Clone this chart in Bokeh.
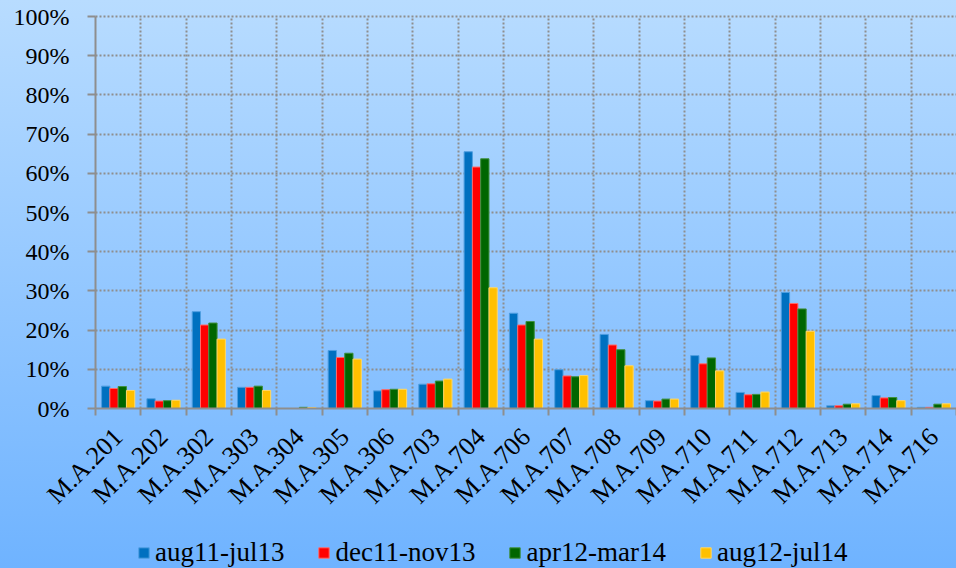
from math import pi
from bokeh.plotting import figure
from bokeh.models import (Range1d, FixedTicker, PrintfTickFormatter, Legend,
                          LegendItem, GlobalInlineStyleSheet, Grid)
from bokeh.embed import file_html
from bokeh.resources import INLINE

categories = ["M.A.201", "M.A.202", "M.A.302", "M.A.303", "M.A.304", "M.A.305",
              "M.A.306", "M.A.703", "M.A.704", "M.A.706", "M.A.707", "M.A.708",
              "M.A.709", "M.A.710", "M.A.711", "M.A.712", "M.A.713", "M.A.714",
              "M.A.716"]
series_names = ["aug11-jul13", "dec11-nov13", "apr12-mar14", "aug12-jul14"]
aug11_jul13 = [5.7, 2.5, 24.7, 5.4, 0.0, 14.8, 4.5, 6.2, 65.5, 24.3, 9.9, 18.9,
               2.0, 13.5, 4.1, 29.6, 0.7, 3.3, 0.3]
dec11_nov13 = [5.1, 1.9, 21.3, 5.4, 0.0, 13.0, 4.8, 6.3, 61.6, 21.3, 8.3, 16.2,
               1.9, 11.4, 3.5, 26.8, 0.7, 2.7, 0.3]
apr12_mar14 = [5.6, 2.0, 21.8, 5.7, 0.3, 14.1, 4.9, 7.0, 63.7, 22.2, 8.1, 15.0,
               2.4, 12.9, 3.6, 25.4, 1.1, 2.8, 1.1]
aug12_jul14 = [4.6, 2.1, 17.7, 4.6, 0.25, 12.6, 4.9, 7.5, 30.8, 17.7, 8.4, 10.9,
               2.4, 9.6, 4.2, 19.7, 1.2, 2.0, 1.2]
y_ticks = [0, 10, 20, 30, 40, 50, 60, 70, 80, 90, 100]

series_values = [aug11_jul13, dec11_nov13, apr12_mar14, aug12_jul14]
fill_colors = ["#0070C0", "#FF0000", "#006600", "#FFC000"]
edge_colors = ["#4f9ee0", "#ff6a6a", "#3f8f3f", "#ffd766"]

GREY = "#8e8e8e"
FONT = "Liberation Serif"

# page geometry (px): plot area spans x 95..956, y 16 (100%) .. 408 (0%)
W, H = 956, 568
AX_LEFT, AX_RIGHT = 95, 956
Y100, Y0 = 16, 408
n = len(categories)
px_per_cat = (AX_RIGHT - AX_LEFT) / n
px_per_pct = (Y0 - Y100) / 100.0
x_start = -0.5 - AX_LEFT / px_per_cat
x_end = n - 0.5 + (W - AX_RIGHT) / px_per_cat
y_start = -(H - Y0) / px_per_pct
y_end = 100 + Y100 / px_per_pct

p = figure(width=W, height=H,
           x_range=Range1d(x_start, x_end),
           y_range=Range1d(y_start, y_end),
           output_backend="svg", toolbar_location=None,
           min_border_left=0, min_border_right=0,
           min_border_top=0, min_border_bottom=0,
           background_fill_alpha=0, border_fill_alpha=0,
           outline_line_color=None)

p.stylesheets = [GlobalInlineStyleSheet(css=(
    "html { height: 100%; background: linear-gradient(to bottom, #b8dcff 0%, #6fb3ff 100%); }"
    " body { margin: 0; }"))]

bar_w = 0.183
offsets = [-1.5 * bar_w, -0.5 * bar_w, 0.5 * bar_w, 1.5 * bar_w]
renderers = []
for vals, off, fc, ec in zip(series_values, offsets, fill_colors, edge_colors):
    xs = [i + off for i in range(n)]
    r = p.vbar(x=xs, top=vals, bottom=0, width=bar_w,
               fill_color=fc, line_color=ec, line_width=1)
    renderers.append(r)

# y axis, drawn at the left category boundary
p.yaxis.fixed_location = -0.5
p.yaxis.bounds = (0, 100)
p.yaxis.ticker = FixedTicker(ticks=y_ticks)
p.yaxis.formatter = PrintfTickFormatter(format="%d%%")
p.yaxis.major_label_text_font = FONT
p.yaxis.major_label_text_font_size = "24px"
p.yaxis.major_label_text_color = "black"
p.yaxis.major_label_standoff = 18
p.yaxis.axis_line_color = GREY
p.yaxis.axis_line_width = 2
p.yaxis.major_tick_out = 8
p.yaxis.major_tick_in = 0
p.yaxis.major_tick_line_color = GREY
p.yaxis.major_tick_line_width = 2
p.yaxis.minor_tick_line_color = None

# x axis at 0%: labels at category centres, ticks at category boundaries
p.xaxis.fixed_location = 0
p.xaxis.bounds = (-0.5, n - 0.5)
p.xaxis.ticker = FixedTicker(ticks=list(range(n)),
                             minor_ticks=[i - 0.5 for i in range(n + 1)])
p.xaxis.major_label_overrides = {i: c for i, c in enumerate(categories)}
p.xaxis.major_label_orientation = pi / 4
p.xaxis.major_label_text_font = FONT
p.xaxis.major_label_text_font_size = "26px"
p.xaxis.major_label_text_color = "black"
p.xaxis.major_label_standoff = 17
p.xaxis.major_tick_line_color = None
p.xaxis.minor_tick_out = 7
p.xaxis.minor_tick_in = 0
p.xaxis.minor_tick_line_color = GREY
p.xaxis.minor_tick_line_width = 2
p.xaxis.axis_line_color = GREY
p.xaxis.axis_line_width = 2

# grids, confined to the plot area
has_cross = "cross_bounds" in Grid.properties()
p.xgrid.ticker = FixedTicker(ticks=[i + 0.5 for i in range(n - 1)])
p.ygrid.ticker = FixedTicker(ticks=y_ticks[1:])
p.xgrid.bounds = (-0.5, n - 0.5)
p.ygrid.bounds = (0, 100)
if has_cross:
    p.xgrid.cross_bounds = (0, 100)
    p.ygrid.cross_bounds = (-0.5, n - 0.5)
for g in (p.xgrid, p.ygrid):
    g.grid_line_color = GREY
    g.grid_line_width = 2
    g.grid_line_dash = "2 2"

legend = Legend(items=[LegendItem(label=s, renderers=[r])
                       for s, r in zip(series_names, renderers)],
                location=(137, 0), orientation="horizontal",
                label_text_font=FONT, label_text_font_size="27px",
                label_text_color="black",
                glyph_width=13, glyph_height=13, label_standoff=5,
                spacing=33, padding=0, margin=0,
                border_line_alpha=0, background_fill_alpha=0)
p.add_layout(legend)

open("out.html", "w").write(file_html(p, INLINE))
